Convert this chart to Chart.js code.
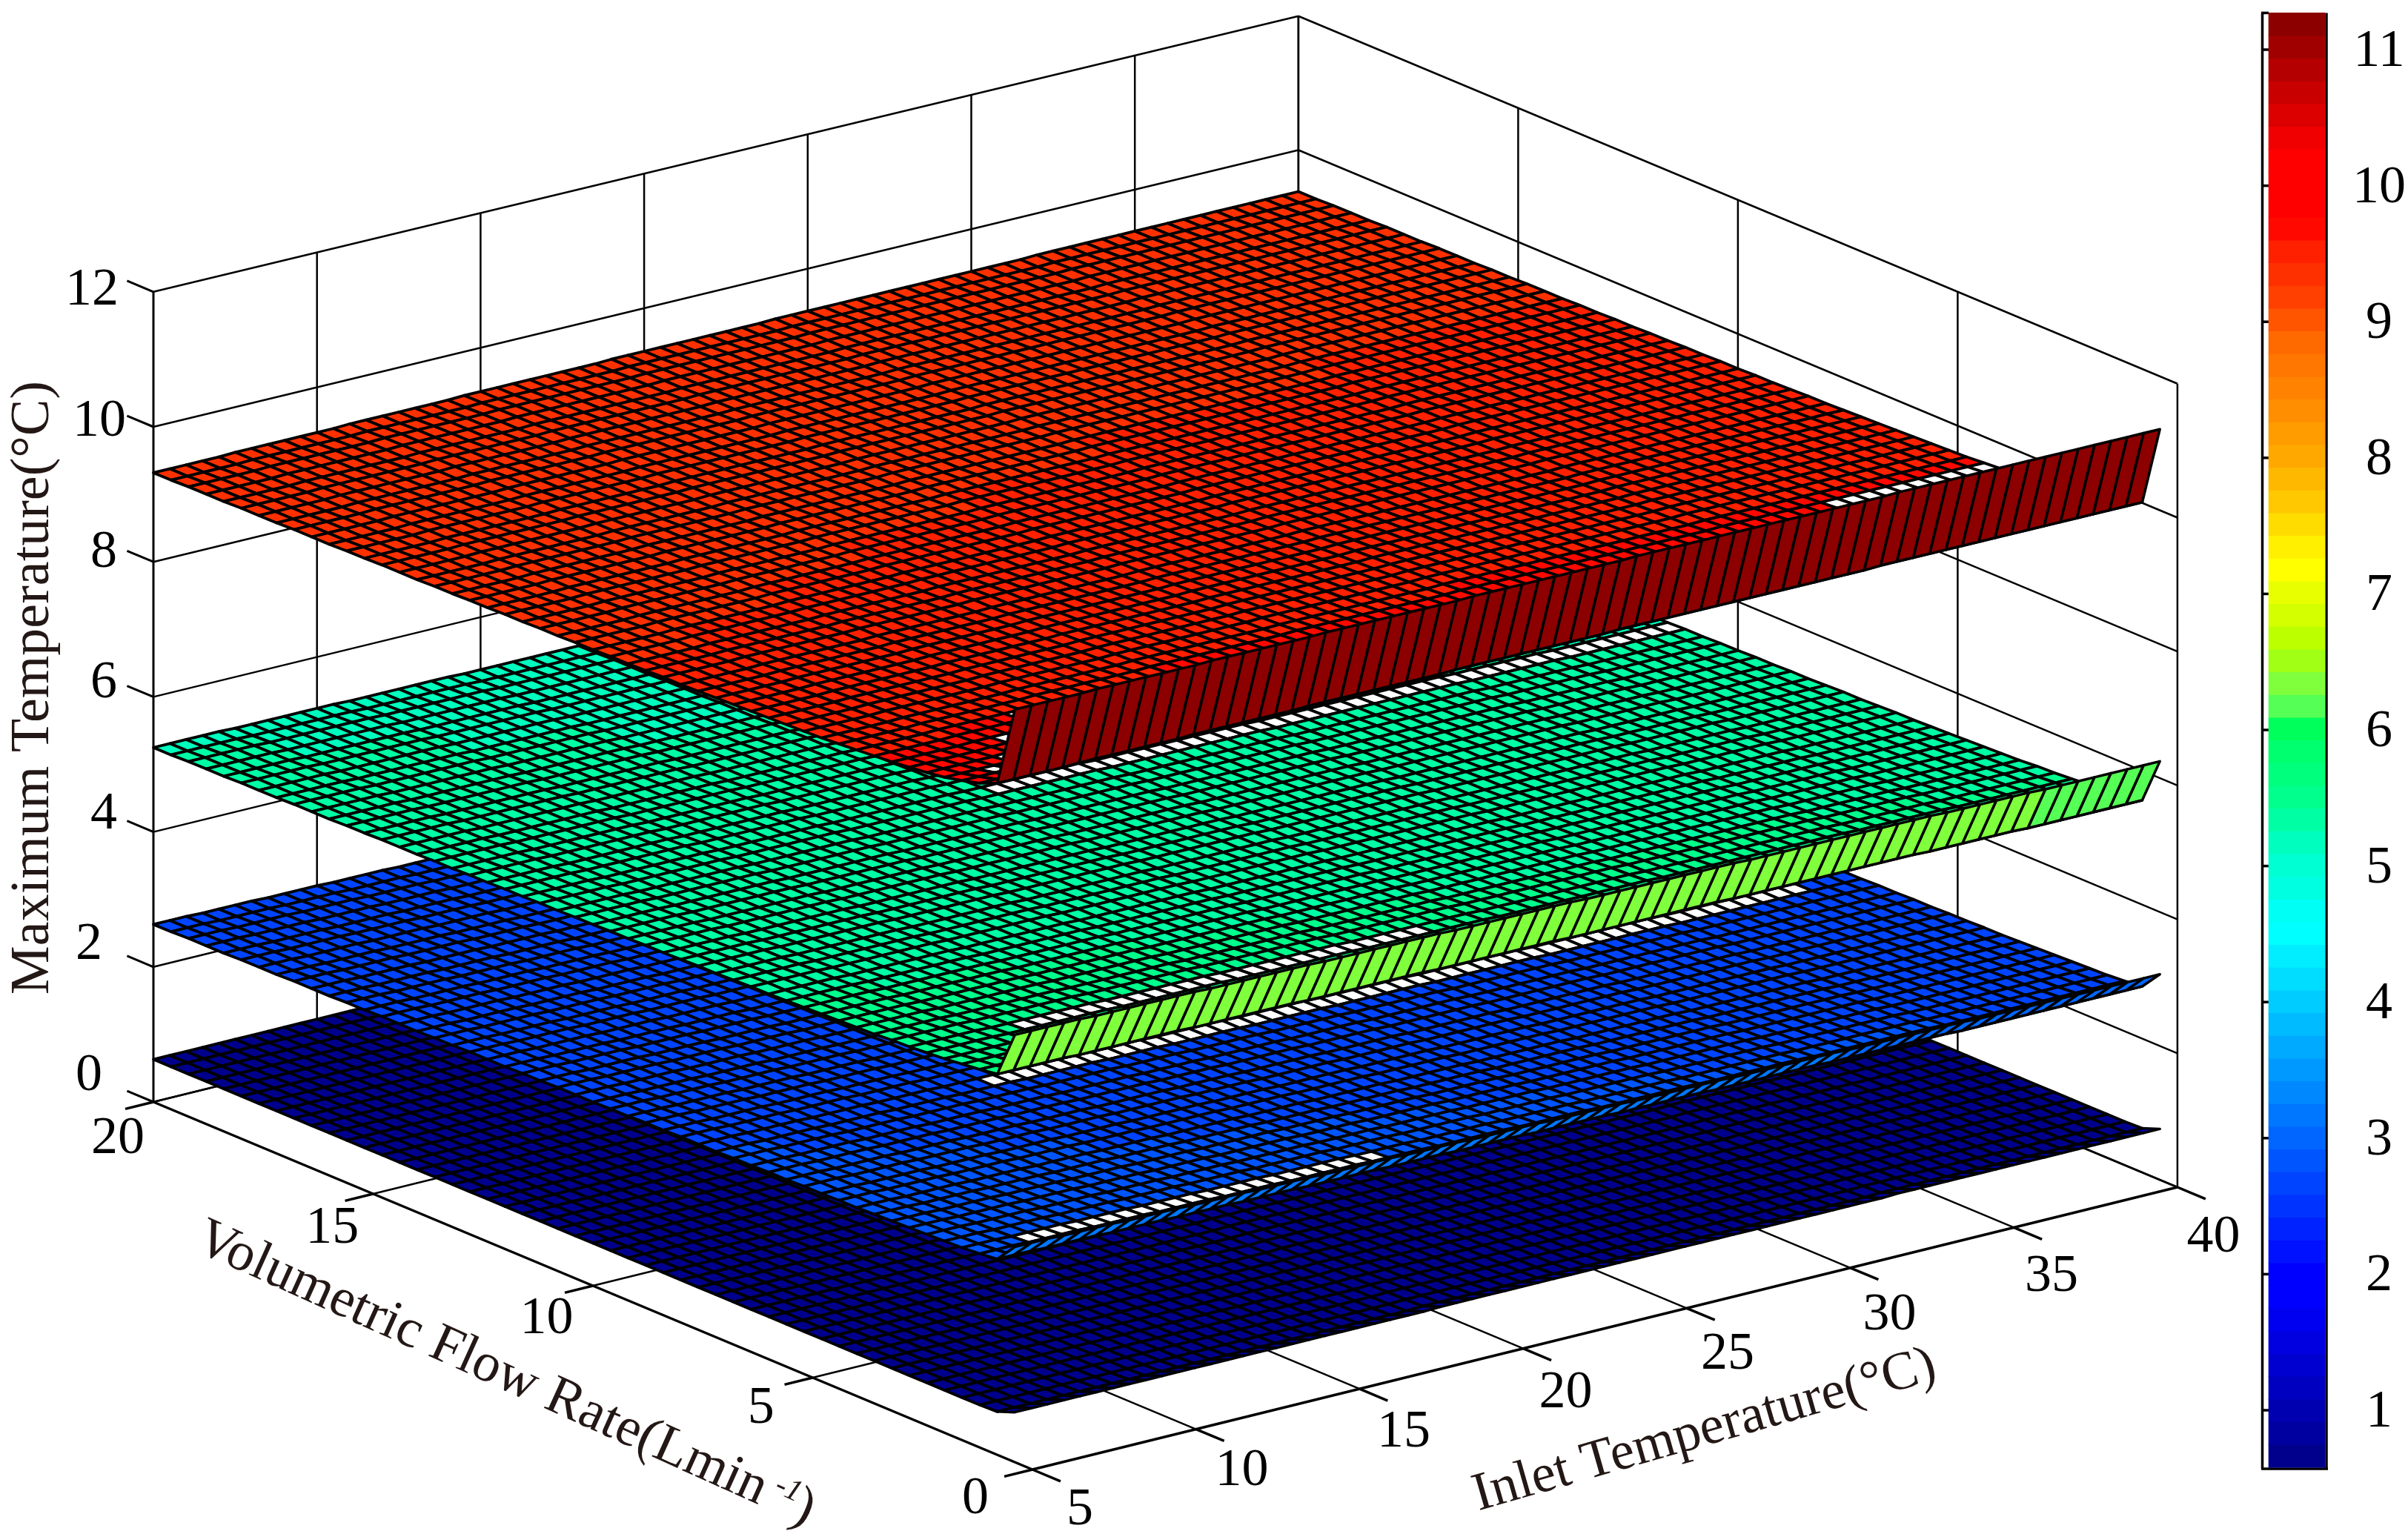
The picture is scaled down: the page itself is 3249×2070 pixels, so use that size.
<!DOCTYPE html>
<html>
<head>
<meta charset="utf-8">
<title>Maximum temperature surfaces</title>
<style>
html, body { margin: 0; padding: 0; background: #fff; }
canvas { display: block; }
</style>
<script src="https://cdn.jsdelivr.net/npm/chart.js@4/dist/chart.umd.min.js"></script>
</head>
<body>
<canvas id="chart-surface" width="3249" height="2070"></canvas>
<script>
// grid of the four surfaces
var inletTemps = [
    5, 5.5, 6, 6.5, 7, 7.5, 8, 8.5, 9, 9.5,
    10, 10.5, 11, 11.5, 12, 12.5, 13, 13.5, 14, 14.5,
    15, 15.5, 16, 16.5, 17, 17.5, 18, 18.5, 19, 19.5,
    20, 20.5, 21, 21.5, 22, 22.5, 23, 23.5, 24, 24.5,
    25, 25.5, 26, 26.5, 27, 27.5, 28, 28.5, 29, 29.5,
    30, 30.5, 31, 31.5, 32, 32.5, 33, 33.5, 34, 34.5,
    35, 35.5, 36, 36.5, 37, 37.5, 38, 38.5, 39, 39.5, 40
];
var flowRates = [
    0.4, 0.8, 1.2, 1.6, 2, 2.4, 2.8, 3.2, 3.6, 4,
    4.4, 4.8, 5.2, 5.6, 6, 6.4, 6.8, 7.2, 7.6, 8,
    8.4, 8.8, 9.2, 9.6, 10, 10.4, 10.8, 11.2, 11.6, 12,
    12.4, 12.8, 13.2, 13.6, 14, 14.4, 14.8, 15.2, 15.6, 16,
    16.4, 16.8, 17.2, 17.6, 18, 18.4, 18.8, 19.2, 19.6, 20
];

// temperature along each flow row (at inlet 5).
// The surfaces barely change with inlet temperature, so each vertex is
// its row reading plus the column reading below.
var navyByFlow = [
    0.74, 0.64, 0.63, 0.63, 0.63, 0.63, 0.63, 0.63, 0.63, 0.63,
    0.63, 0.63, 0.63, 0.63, 0.63, 0.63, 0.63, 0.63, 0.63, 0.63,
    0.63, 0.63, 0.63, 0.63, 0.63, 0.63, 0.63, 0.63, 0.63, 0.63,
    0.63, 0.63, 0.63, 0.63, 0.63, 0.63, 0.63, 0.63, 0.63, 0.63,
    0.63, 0.63, 0.63, 0.63, 0.63, 0.63, 0.63, 0.63, 0.63, 0.63
];
var blueByFlow = [
    3.19, 2.90, 2.87, 2.85, 2.84, 2.83, 2.82, 2.81, 2.80, 2.79,
    2.79, 2.78, 2.78, 2.77, 2.77, 2.76, 2.76, 2.75, 2.75, 2.75,
    2.74, 2.74, 2.73, 2.73, 2.72, 2.72, 2.72, 2.71, 2.71, 2.70,
    2.70, 2.70, 2.69, 2.69, 2.68, 2.68, 2.68, 2.67, 2.67, 2.66,
    2.66, 2.66, 2.65, 2.65, 2.65, 2.64, 2.64, 2.64, 2.63, 2.63
];
var greenByFlow = [
    6.33, 5.64, 5.60, 5.57, 5.54, 5.52, 5.50, 5.49, 5.47, 5.46,
    5.45, 5.44, 5.43, 5.42, 5.41, 5.41, 5.40, 5.39, 5.39, 5.38,
    5.37, 5.37, 5.36, 5.36, 5.35, 5.35, 5.34, 5.34, 5.33, 5.33,
    5.32, 5.32, 5.31, 5.31, 5.30, 5.30, 5.30, 5.29, 5.29, 5.28,
    5.28, 5.28, 5.27, 5.27, 5.27, 5.26, 5.26, 5.26, 5.25, 5.25
];
var redByFlow = [
    11.15, 9.95, 9.84, 9.77, 9.71, 9.67, 9.64, 9.61, 9.59, 9.57,
    9.55, 9.53, 9.52, 9.51, 9.50, 9.49, 9.48, 9.47, 9.46, 9.45,
    9.45, 9.44, 9.43, 9.43, 9.42, 9.42, 9.41, 9.41, 9.40, 9.40,
    9.39, 9.39, 9.38, 9.38, 9.37, 9.37, 9.37, 9.36, 9.36, 9.35,
    9.35, 9.35, 9.34, 9.34, 9.34, 9.33, 9.33, 9.33, 9.32, 9.32
];

// change of temperature along inlet temperature
var navyByInlet = [
    0, 0, 0, 0, 0, 0, 0, 0, 0, 0,
    0, 0, 0, 0, 0, 0, 0, 0, 0, 0,
    0, 0, 0, 0, 0, 0, 0.01, 0.01, 0.01, 0.01,
    0.01, 0.01, 0.01, 0.01, 0.01, 0.01, 0.01, 0.01, 0.01, 0.01,
    0.01, 0.01, 0.01, 0.01, 0.01, 0.01, 0.01, 0.01, 0.01, 0.01,
    0.01, 0.01, 0.01, 0.01, 0.02, 0.02, 0.02, 0.02, 0.02, 0.02,
    0.02, 0.02, 0.02, 0.02, 0.02, 0.02, 0.02, 0.02, 0.02, 0.02, 0.02
];
var blueByInlet = [
    0, 0, 0, -0.01, -0.01, -0.01, -0.01, -0.02, -0.02, -0.02,
    -0.02, -0.03, -0.03, -0.03, -0.03, -0.04, -0.04, -0.04, -0.04, -0.05,
    -0.05, -0.05, -0.05, -0.05, -0.06, -0.06, -0.06, -0.06, -0.07, -0.07,
    -0.07, -0.07, -0.07, -0.08, -0.08, -0.08, -0.08, -0.08, -0.09, -0.09,
    -0.09, -0.09, -0.09, -0.09, -0.10, -0.10, -0.10, -0.10, -0.10, -0.10,
    -0.10, -0.11, -0.11, -0.11, -0.11, -0.11, -0.11, -0.11, -0.11, -0.12,
    -0.12, -0.12, -0.12, -0.12, -0.12, -0.12, -0.12, -0.12, -0.12, -0.12, -0.12
];
var greenByInlet = [
    0, 0, 0, 0, 0, -0.01, -0.01, -0.01, -0.01, -0.01,
    -0.01, -0.01, -0.02, -0.02, -0.02, -0.02, -0.02, -0.02, -0.02, -0.03,
    -0.03, -0.03, -0.03, -0.03, -0.03, -0.03, -0.03, -0.04, -0.04, -0.04,
    -0.04, -0.04, -0.04, -0.04, -0.04, -0.05, -0.05, -0.05, -0.05, -0.05,
    -0.05, -0.05, -0.05, -0.05, -0.05, -0.06, -0.06, -0.06, -0.06, -0.06,
    -0.06, -0.06, -0.06, -0.06, -0.06, -0.06, -0.06, -0.07, -0.07, -0.07,
    -0.07, -0.07, -0.07, -0.08, -0.08, -0.08, -0.08, -0.08, -0.08, -0.08, -0.08
];
var redByInlet = [
    0, 0, 0, 0, 0, 0.01, 0.01, 0.01, 0.01, 0.01,
    0.01, 0.01, 0.02, 0.02, 0.02, 0.02, 0.02, 0.02, 0.02, 0.03,
    0.03, 0.03, 0.03, 0.03, 0.03, 0.03, 0.03, 0.03, 0.04, 0.04,
    0.04, 0.04, 0.04, 0.04, 0.04, 0.04, 0.04, 0.04, 0.05, 0.05,
    0.05, 0.05, 0.05, 0.05, 0.05, 0.05, 0.05, 0.05, 0.05, 0.05,
    0.05, 0.05, 0.05, 0.05, 0.06, 0.06, 0.06, 0.06, 0.06, 0.06,
    0.06, 0.06, 0.06, 0.06, 0.06, 0.06, 0.06, 0.06, 0.06, 0.06, 0.06
];

// white cells of the original render: surface, flow row, inlet range
var seamSurface = [1, 1, 2, 2, 3, 3, 3, 3, 3, 3];
var seamFlow = [1.2, 7.2, 2.4, 11.2, 4, 1.6, 2, 2.8, 3.2, 3.6];
var seamInletFrom = [6.5, 13.5, 8, 19, 35, 6, 7, 8, 9, 9.5];
var seamInletTo = [17, 38, 20, 40, 39.5, 6, 7, 8, 9, 9.5];

var zTicks = [0, 2, 4, 6, 8, 10, 12];
var zTickLabelX = [120, 120, 140, 140, 140, 134, 124];
var flowTicks = [0, 5, 10, 15, 20];
var inletTicks = [5, 10, 15, 20, 25, 30, 35, 40];
var colorbarTicks = [1, 2, 3, 4, 5, 6, 7, 8, 9, 10, 11];
var colorbarMin = 0.58;
var colorbarMax = 11.27;

var bandColors = [
    '#00008c', '#0000a0', '#0000b0', '#0000c0', '#0000d0', '#0000e0', '#0000f0', '#0000ff',
    '#0000ff', '#0011ff', '#0022ff', '#0033ff', '#0044ff', '#0055ff', '#0066ff', '#0077ff',
    '#0088ff', '#0099ff', '#00aaff', '#00bbff', '#00ccff', '#00ddff', '#00eeff', '#00ffff',
    '#00fff5', '#00ffe1', '#00ffd2', '#00ffbe', '#00ffa5', '#00ff8c', '#00ff7d', '#00ff6e',
    '#00ff5a', '#55ff55', '#80ff3c', '#a0ff14', '#bbff00', '#d4ff00', '#e8ff00', '#ffff00',
    '#fff000', '#ffdc00', '#ffc800', '#ffb800', '#ffa800', '#ff9c00', '#ff8f00', '#ff8300',
    '#ff7700', '#ff6a00', '#ff5500', '#ff4000', '#ff3000', '#ff2000', '#ff0800', '#ff0000',
    '#ff0000', '#ff0000', '#f00000', '#dc0000', '#c80000', '#b40000', '#a00000', '#8c0000'
];

function project(inlet, flow, z) {
    var di = inlet - 5, df = 20 - flow;
    return {
        x: 207 + di * 44.14 + df * 59.3,
        y: 1487 - di * 10.886 + df * 24.8 - z * (91.1 - di * 0.0214)
    };
}

function bandIndex(z) {
    var k = Math.floor((z - colorbarMin) / (colorbarMax - colorbarMin) * bandColors.length);
    return Math.max(0, Math.min(bandColors.length - 1, k));
}

function segment(a, b, width, axisId) {
    return {
        type: 'scatter', data: [a, b], showLine: true, borderColor: '#000', borderWidth: width,
        pointRadius: 0, yAxisID: axisId || 'y', borderCapStyle: 'butt'
    };
}

var surfaces = [
    { byFlow: navyByFlow, byInlet: navyByInlet },
    { byFlow: blueByFlow, byInlet: blueByInlet },
    { byFlow: greenByFlow, byInlet: greenByInlet },
    { byFlow: redByFlow, byInlet: redByInlet }
];

var datasets = [];

// one hidden point per mesh vertex; the scales place them, the plugin below paints the cells
surfaces.forEach(function (s) {
    var points = [];
    s.values = [];
    flowRates.forEach(function (flow, j) {
        inletTemps.forEach(function (inlet, i) {
            var z = s.byFlow[j] + s.byInlet[i];
            s.values.push(z);
            points.push(project(inlet, flow, z));
        });
    });
    s.datasetIndex = datasets.length;
    datasets.push({ type: 'scatter', data: points, showLine: false, pointRadius: 0 });
});

// walls, floor and axes
zTicks.forEach(function (z) {
    datasets.push(segment(project(5, 20, z), project(40, 20, z), 2.5));
    datasets.push(segment(project(40, 20, z), project(40, 0, z), 2.5));
    datasets.push(segment(project(5, 20, z), project(5, 20.6, z), 3));
});
inletTicks.forEach(function (inlet) {
    datasets.push(segment(project(inlet, 20, 0), project(inlet, 20, 12), inlet === 5 ? 3 : 2.5));
    datasets.push(segment(project(inlet, 20, 0), project(inlet, 0, 0), inlet === 5 ? 3.5 : 2.5));
    datasets.push(segment(project(inlet, 0, 0), project(inlet, -0.64, 0), 3.5));
});
flowTicks.forEach(function (flow) {
    datasets.push(segment(project(40, flow, 0), project(40, flow, 12), 2.5));
    datasets.push(segment(project(5, flow, 0), project(40, flow, 0), flow === 0 ? 3.5 : 2.5));
    datasets.push(segment(project(5, flow, 0), project(4.14, flow, 0), 3.5));
});

// colorbar
var bandTop = [];
bandColors.forEach(function (c, k) {
    var step = (colorbarMax - colorbarMin) / bandColors.length;
    bandTop.push({ x: 3099, y: [colorbarMin + k * step, colorbarMin + (k + 1) * step] });
});
datasets.push({
    type: 'bar', data: bandTop, backgroundColor: bandColors, borderWidth: 0,
    barThickness: 76, yAxisID: 'yBar', grouped: false
});
datasets.push(segment({ x: 3052.5, y: colorbarMin - 0.01 }, { x: 3052.5, y: colorbarMax }, 3.5, 'yBar'));
datasets.push(segment({ x: 3139, y: colorbarMin - 0.01 }, { x: 3139, y: colorbarMax }, 3.5, 'yBar'));
datasets.push(segment({ x: 3051, y: colorbarMin - 0.01 }, { x: 3141, y: colorbarMin - 0.01 }, 3.5, 'yBar'));
datasets.push(segment({ x: 3051, y: colorbarMax }, { x: 3061, y: colorbarMax }, 3.5, 'yBar'));
colorbarTicks.forEach(function (v) {
    datasets.push(segment({ x: 3051, y: v }, { x: 3061, y: v }, 3.5, 'yBar'));
});

function isSeam(surfaceIndex, flow, inlet) {
    for (var k = 0; k < seamSurface.length; k++) {
        if (seamSurface[k] === surfaceIndex && seamFlow[k] === flow &&
            inlet >= seamInletFrom[k] && inlet <= seamInletTo[k]) return true;
    }
    return false;
}

var surfacePlugin = {
    id: 'surfaceMesh',
    afterDatasetsDraw: function (chart) {
        var ctx = chart.ctx;
        var cols = inletTemps.length;
        ctx.save();
        ctx.strokeStyle = '#000';
        ctx.lineJoin = 'round';
        surfaces.forEach(function (s, n) {
            var pts = chart.getDatasetMeta(s.datasetIndex).data;
            // back rows first so the steep front row stays on top
            for (var j = flowRates.length - 2; j >= 0; j--) {
                ctx.lineWidth = j === 0 ? 3.5 : 3.8;
                for (var i = cols - 2; i >= 0; i--) {
                    var a = pts[j * cols + i], b = pts[j * cols + i + 1];
                    var c = pts[(j + 1) * cols + i + 1], d = pts[(j + 1) * cols + i];
                    ctx.beginPath();
                    ctx.moveTo(a.x, a.y);
                    ctx.lineTo(b.x, b.y);
                    ctx.lineTo(c.x, c.y);
                    ctx.lineTo(d.x, d.y);
                    ctx.closePath();
                    ctx.fillStyle = isSeam(n, flowRates[j], inletTemps[i]) ? '#fff' :
                        bandColors[bandIndex(s.values[j * cols + i])];
                    ctx.fill();
                    ctx.stroke();
                }
            }
        });
        ctx.restore();
    },
    afterDraw: function (chart) {
        var ctx = chart.ctx;
        var barScale = chart.scales.yBar;
        ctx.save();
        ctx.fillStyle = '#000';
        ctx.font = '72px "Liberation Serif"';
        ctx.textAlign = 'center';
        ctx.textBaseline = 'middle';
        zTicks.forEach(function (z, k) {
            ctx.fillText(String(z), zTickLabelX[k], 1452 - z * 88.3);
        });
        flowTicks.forEach(function (flow) {
            ctx.fillText(String(flow), 1316 - flow * 57.85, 2023 - flow * 24.3);
        });
        inletTicks.forEach(function (inlet) {
            ctx.fillText(String(inlet), 1457 + (inlet - 5) * 43.7, 2038 - (inlet - 5) * 10.5);
        });
        colorbarTicks.forEach(function (v) {
            ctx.fillText(String(v), 3210, barScale.getPixelForValue(v) + 3);
        });

        ctx.fillStyle = '#231815';
        ctx.font = '74px "Liberation Serif"';
        ctx.save();
        ctx.translate(46, 928);
        ctx.rotate(-Math.PI / 2);
        ctx.fillText('Maximum Temperature(°C)', 0, 0);
        ctx.restore();

        ctx.font = '73px "Liberation Serif"';
        ctx.save();
        ctx.translate(2300, 1931);
        ctx.rotate(-16 * Math.PI / 180);
        ctx.fillText('Inlet Temperature(°C)', 0, 0);
        ctx.restore();

        ctx.font = '74px "Liberation Serif"';
        ctx.save();
        ctx.translate(682, 1855);
        ctx.rotate(24.3 * Math.PI / 180);
        var head = 'Volumetric Flow Rate(Lmin', sup = ' -1', tail = ')';
        ctx.textAlign = 'left';
        var headW = ctx.measureText(head).width, tailW = ctx.measureText(tail).width;
        ctx.font = 'italic 42px "Liberation Serif"';
        var supW = ctx.measureText(sup).width;
        var left = -(headW + supW + tailW) / 2;
        ctx.fillText(sup, left + headW, -16);
        ctx.font = '74px "Liberation Serif"';
        ctx.fillText(head, left, 0);
        ctx.fillText(tail, left + headW + supW, 0);
        ctx.restore();
        ctx.restore();
    }
};

new Chart(document.getElementById('chart-surface').getContext('2d'), {
    type: 'scatter',
    data: { datasets: datasets },
    plugins: [surfacePlugin],
    options: {
        responsive: false,
        maintainAspectRatio: false,
        devicePixelRatio: 1,
        animation: false,
        events: [],
        plugins: { legend: { display: false }, tooltip: { enabled: false } },
        scales: {
            x: { type: 'linear', min: 0, max: 3249, display: false, offset: false },
            y: { type: 'linear', min: 0, max: 2070, reverse: true, display: false },
            yBar: { type: 'linear', min: 0.0904, max: 11.365, display: false }
        }
    }
});
</script>
</body>
</html>
